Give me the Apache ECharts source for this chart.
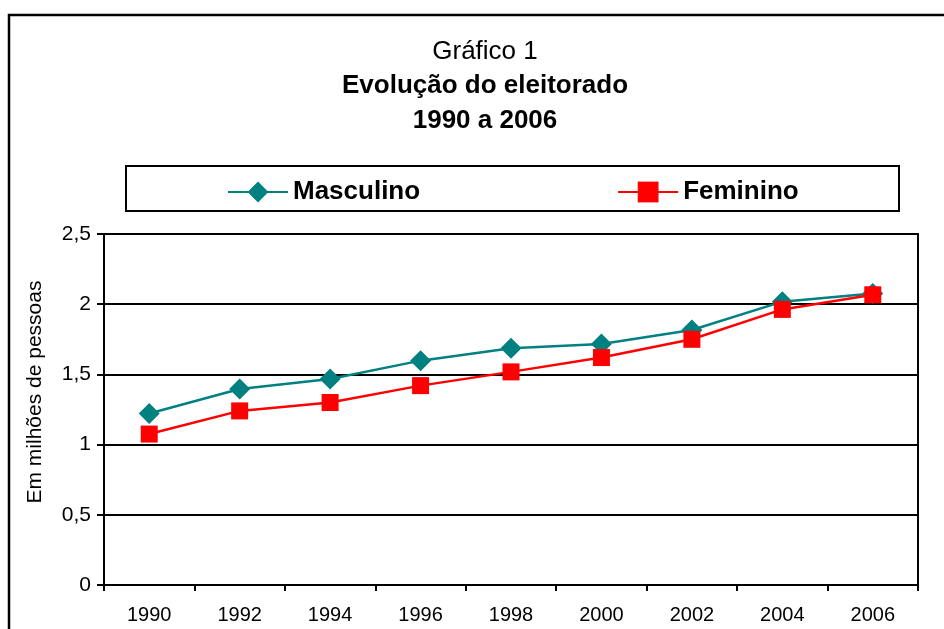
<!DOCTYPE html>
<html><head><meta charset="utf-8">
<script src="https://cdn.jsdelivr.net/npm/echarts@6/dist/echarts.min.js"></script>
<style>html,body{margin:0;padding:0;background:#fff}#c{width:944px;height:629px}</style>
</head><body><div id="c"></div>
<script>
const categories = ['1990','1992','1994','1996','1998','2000','2002','2004','2006'];
const masculino = [1.222, 1.396, 1.467, 1.598, 1.686, 1.716, 1.816, 2.018, 2.077];
const feminino = [1.075, 1.24, 1.30, 1.42, 1.518, 1.62, 1.75, 1.963, 2.067];
const yTickLabels = {0:'0',0.5:'0,5',1:'1',1.5:'1,5',2:'2',2.5:'2,5'};
const FONT = '"Liberation Sans", Arial, sans-serif';
const chart = echarts.init(document.getElementById('c'));
chart.setOption({
  animation: false,
  backgroundColor: '#fff',
  graphic: [
    {type:'rect', shape:{x:9,y:15,width:960,height:640}, style:{fill:'none',stroke:'#000',lineWidth:2.5}, z:-1},
    {type:'rect', shape:{x:126,y:166,width:773,height:45}, style:{fill:'#fff',stroke:'#000',lineWidth:2}, z:-1},
    {type:'text', x:485, y:52, style:{text:'Gráfico 1', font:'26px '+FONT, fill:'#000', textAlign:'center', textVerticalAlign:'middle'}},
    {type:'text', x:485, y:86, style:{text:'Evolução do eleitorado', font:'bold 26px '+FONT, fill:'#000', textAlign:'center', textVerticalAlign:'middle'}},
    {type:'text', x:485, y:121, style:{text:'1990 a 2006', font:'bold 26px '+FONT, fill:'#000', textAlign:'center', textVerticalAlign:'middle'}},
    {type:'text', x:35, y:392, rotation:Math.PI/2, style:{text:'Em milhões de pessoas', font:'21px '+FONT, fill:'#000', textAlign:'center', textVerticalAlign:'middle'}}
  ],
  legend: {
    left: 222, top: 174, itemWidth: 60, itemHeight: 26, itemGap: 197,
    textStyle: {fontFamily: FONT, fontSize: 26, fontWeight: 'bold', color: '#000'},
    data: ['Masculino', 'Feminino']
  },
  grid: {left: 104, right: 26, top: 234, bottom: 44, show: true, borderColor:'#000', borderWidth: 2, containLabel:false},
  xAxis: {
    type: 'category', data: categories, boundaryGap: true,
    axisLine: {lineStyle:{color:'#000', width:2}},
    axisTick: {show:true, length:6, lineStyle:{color:'#000', width:2}},
    axisLabel: {fontFamily: FONT, fontSize: 20, color:'#000', margin: 20}
  },
  yAxis: {
    type: 'value', min: 0, max: 2.5, interval: 0.5,
    axisLine: {show:true, lineStyle:{color:'#000', width:2}},
    axisTick: {show:true, length:7, lineStyle:{color:'#000', width:2}},
    splitLine: {show:true, lineStyle:{color:'#000', width:2}},
    axisLabel: {fontFamily: FONT, fontSize: 21, color:'#000', margin: 13, formatter: v => yTickLabels[v] ?? String(v).replace('.',',')}
  },
  series: [
    {name:'Masculino', type:'line', data: masculino, symbol:'diamond', symbolSize:[21,21],
     lineStyle:{color:'#008080', width:2.5}, itemStyle:{color:'#008080'}, z:2},
    {name:'Feminino', type:'line', data: feminino, symbol:'rect', symbolSize:[17,17],
     lineStyle:{color:'#ff0000', width:2.5}, itemStyle:{color:'#ff0000'}, z:3}
  ]
});
</script></body></html>
